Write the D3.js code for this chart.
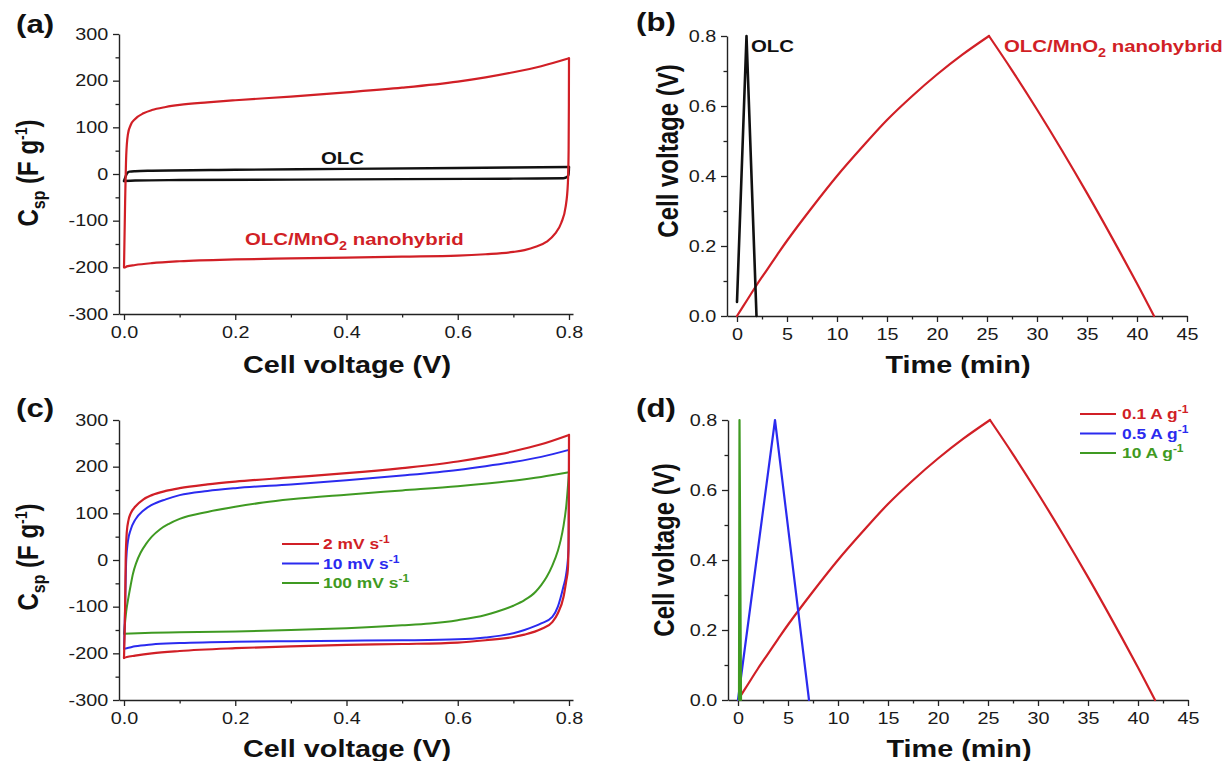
<!DOCTYPE html>
<html>
<head>
<meta charset="utf-8">
<script src="https://cdn.jsdelivr.net/npm/d3@7"></script>
<style>
  body { margin: 0; background: #fff; }
  svg { display: block; font-family: "Liberation Sans", Arial, sans-serif; }
</style>
</head>
<body>
<svg id="fig" width="1226" height="761"></svg>
<script>
// ---- data ----
// (a) CV of the two electrodes, [cell voltage V, Csp F/g]; forward sweep then reverse sweep
const cvHybrid = [[0,-200],[0.002,-60],[0.004,40],[0.007,85],[0.012,105],[0.02,118],[0.035,130],[0.05,137],[0.075,143.5],[0.1,148],[0.15,153.5],[0.2,158],[0.3,166],[0.4,175],[0.5,185],[0.6,198],[0.65,207],[0.7,218],[0.75,231],[0.8,248],
  [0.7998,150],[0.7993,50],[0.798,-20],[0.794,-70],[0.786,-105],[0.775,-128],[0.76,-145],[0.74,-156],[0.72,-163],[0.7,-167],[0.65,-172],[0.6,-175],[0.5,-177],[0.4,-179],[0.3,-181],[0.2,-183],[0.1,-187],[0.05,-191],[0.02,-195],[0.005,-198],[0.002,-200],[0,-200]];
const cvOLC = [[0,-15],[0.003,-5],[0.006,2],[0.01,5],[0.02,6],[0.05,7],[0.2,9],[0.4,11],[0.6,13],[0.8,15],
  [0.7997,6],[0.799,-2],[0.797,-6],[0.79,-9],[0.7,-10],[0.5,-11],[0.3,-12],[0.1,-13],[0.02,-14],[0,-15]];

// (b)/(d) galvanostatic charge-discharge, [time min, voltage V]
const gcdHybridCharge = [[0,0],[1,0.045],[2,0.09],[3,0.132],[4,0.174],[5,0.215],[7.5,0.31],[10,0.4],[12.5,0.482],[15,0.56],[17.5,0.628],[20,0.69],[22.5,0.746],[25.2,0.8]];
const gcdHybridDischarge = [[25.2,0.8],[27.5,0.702],[30,0.59],[32.5,0.473],[35,0.351],[37.5,0.224],[40,0.093],[41.7,0]];
const gcdOLC = [[0,0.04],[0.95,0.8],[1.95,0]];
const gcdHalfAmp = [[0,0],[3.7,0.8],[7.1,0]];
const gcdTenAmp = [[0.1,0],[0.15,0.8],[0.3,0]];

// (c) CV at three scan rates
const cvScan2 = [[0,-210],[0.002,-100],[0.003,0],[0.005,60],[0.008,85],[0.012,100],[0.02,114],[0.035,130],[0.05,139],[0.075,148],[0.1,154],[0.15,162],[0.2,168],[0.3,177],[0.4,186],[0.5,197],[0.6,211],[0.65,221],[0.7,233],[0.75,248],[0.8,268],
  [0.7998,150],[0.7993,50],[0.798,-20],[0.795,-45],[0.79,-80],[0.78,-114],[0.77,-133],[0.75,-148],[0.72,-160],[0.7,-165],[0.65,-172],[0.6,-177],[0.5,-180],[0.4,-182],[0.3,-185],[0.2,-189],[0.1,-195],[0.05,-200],[0.02,-205],[0.005,-208],[0,-210]];
const cvScan10 = [[0,-190],[0.002,-100],[0.004,0],[0.007,40],[0.012,65],[0.02,86],[0.035,106],[0.05,118],[0.075,130],[0.1,139],[0.15,148],[0.2,154],[0.3,162],[0.4,171],[0.5,181],[0.6,193],[0.65,201],[0.7,210],[0.75,221],[0.8,236],
  [0.7997,100],[0.799,20],[0.795,-30],[0.79,-57],[0.78,-100],[0.77,-122],[0.75,-136],[0.72,-150],[0.7,-157],[0.65,-166],[0.6,-170],[0.5,-172],[0.4,-173],[0.3,-174],[0.2,-175],[0.1,-178],[0.05,-181],[0.02,-185],[0.005,-189],[0,-190]];
const cvScan100 = [[0,-158],[0.004,-110],[0.008,-80],[0.012,-54],[0.016,-30],[0.022,-6],[0.03,16],[0.04,35],[0.05,50],[0.065,66],[0.08,77],[0.1,88],[0.15,103],[0.2,114],[0.25,123],[0.3,130],[0.4,140],[0.5,149],[0.6,158],[0.7,170],[0.75,178],[0.8,188],
  [0.795,115],[0.79,72],[0.785,42],[0.78,20],[0.77,-12],[0.76,-36],[0.75,-54],[0.74,-68],[0.72,-86],[0.7,-98],[0.67,-111],[0.65,-118],[0.6,-129],[0.55,-136],[0.5,-140],[0.4,-146],[0.3,-150],[0.2,-153],[0.1,-155],[0.05,-156],[0,-158]];

// tick values
const cvVoltTicks = [0, 0.2, 0.4, 0.6, 0.8];
const cvVoltMinor = [0.1, 0.3, 0.5, 0.7];
const cspTicks = [-300, -200, -100, 0, 100, 200, 300];
const cspMinor = [-250, -150, -50, 50, 150, 250];
const timeTicks = [0, 5, 10, 15, 20, 25, 30, 35, 40, 45];
const timeMinor = [2.5, 7.5, 12.5, 17.5, 22.5, 27.5, 32.5, 37.5, 42.5];
const gcdVoltTicks = [0, 0.2, 0.4, 0.6, 0.8];
const gcdVoltMinor = [0.1, 0.3, 0.5, 0.7];

// legends
const scanLabels = ["2 mV s", "10 mV s", "100 mV s"];
const currentLabels = ["0.1 A g", "0.5 A g", "10 A g"];

const RED = "#d11f26", BLUE = "#2b2bef", GREEN = "#3f9a22", BLACK = "#111";
const SX = 1.2; // the figure is a little stretched sideways

const svg = d3.select("#fig");
svg.append("rect").attr("width", 1226).attr("height", 761).attr("fill", "#fff");

// text made of parts (sub/superscripts), stretched like the original
function richText(parent, x, y, parts, opts) {
  const t = parent.append("text")
    .attr("transform", `translate(${x},${y}) scale(${SX},1)` + (opts.rotate ? " rotate(-90)" : ""))
    .attr("text-anchor", opts.anchor || "start")
    .attr("font-weight", opts.weight || "bold")
    .attr("font-size", opts.size)
    .attr("fill", opts.fill || BLACK);
  let prev = 0;
  parts.forEach((p) => {
    const shift = p.shift || 0;
    t.append("tspan").attr("dy", shift - prev).attr("font-size", p.size || opts.size).text(p.t);
    prev = shift;
  });
  return t;
}

function drawAxes(cfg) {
  const g = svg.append("g");
  const x = d3.scaleLinear().domain(cfg.xDomain).range(cfg.xRange);
  const y = d3.scaleLinear().domain(cfg.yDomain).range(cfg.yRange);

  // minor ticks
  g.append("g").attr("transform", `translate(0,${cfg.yRange[0]})`)
    .call(d3.axisBottom(x).tickValues(cfg.xMinor).tickSize(3.5).tickFormat(""))
    .call((a) => a.select(".domain").remove());
  g.append("g").attr("transform", `translate(${cfg.xRange[0]},0)`)
    .call(d3.axisLeft(y).tickValues(cfg.yMinor).tickSize(3.5).tickFormat(""))
    .call((a) => a.select(".domain").remove());

  const xa = g.append("g").attr("transform", `translate(0,${cfg.yRange[0]})`)
    .call(d3.axisBottom(x).tickValues(cfg.xTicks).tickSize(6).tickPadding(6).tickSizeOuter(0).tickFormat(cfg.xFmt));
  const ya = g.append("g").attr("transform", `translate(${cfg.xRange[0]},0)`)
    .call(d3.axisLeft(y).tickValues(cfg.yTicks).tickSize(6).tickPadding(3).tickSizeOuter(0).tickFormat(cfg.yFmt));

  [xa, ya].forEach((a) => {
    a.select(".domain").attr("stroke", "#222").attr("stroke-width", 1.4);
    a.selectAll("text").attr("font-size", 16.5).attr("fill", "#1a1a1a")
      .attr("font-family", "'Liberation Sans', Arial, sans-serif")
      .attr("transform", `scale(${SX},1)`);
  });
  g.selectAll("line").attr("stroke", "#222").attr("stroke-width", 1.3);

  richText(g, cfg.tag[0], cfg.tag[1], [{ t: cfg.tag[2] }], { size: 26 });
  richText(g, (cfg.xRange[0] + cfg.xRange[1]) / 2 + 1, cfg.xTitleY, cfg.xTitle, { size: 24, anchor: "middle" });
  richText(g, cfg.yTitlePos[0], cfg.yTitlePos[1], cfg.yTitle, { size: 24, anchor: "middle", rotate: true });
  return { g, x, y };
}

// one sweep at a time: x is monotone inside each piece, so no overshoot at the corners
function drawLine(p, data, color, width, curve) {
  const line = d3.line().x((d) => p.x(d[0])).y((d) => p.y(d[1])).curve(curve || d3.curveLinear);
  let pieces = [data];
  if (curve === d3.curveMonotoneX) {
    const turn = d3.maxIndex(data, (d) => d[0]);
    pieces = [data.slice(0, turn + 1), data.slice(turn)].filter((s) => s.length > 1);
  }
  pieces.forEach((s) => {
    p.g.append("path").datum(s).attr("d", line)
      .attr("fill", "none").attr("stroke", color).attr("stroke-width", width)
      .attr("stroke-linejoin", "round").attr("stroke-linecap", "round");
  });
}

const cspTitle = [{ t: "C" }, { t: "sp", size: 16, shift: 6 }, { t: " (F g", shift: 0 }, { t: "-1", size: 14, shift: -9 }, { t: ")", shift: 0 }];
const voltTitle = [{ t: "Cell voltage (V)" }];
const timeTitle = [{ t: "Time (min)" }];
const fmt1 = (d) => d.toFixed(1);
const fmtInt = (d) => String(d);
const SMOOTH = d3.curveCatmullRom.alpha(0.5);
const SWEEP = d3.curveMonotoneX;

// ---- (a) ----
const pa = drawAxes({
  xDomain: [-0.009, 0.8072], xRange: [119, 573], yDomain: [-300, 300], yRange: [314, 34],
  xTicks: cvVoltTicks, xMinor: cvVoltMinor, yTicks: cspTicks, yMinor: cspMinor,
  xFmt: fmt1, yFmt: fmtInt, tag: [16, 33, "(a)"], xTitle: voltTitle, xTitleY: 373,
  yTitle: cspTitle, yTitlePos: [38, 173]
});
drawLine(pa, cvOLC, BLACK, 2.4, SWEEP);
drawLine(pa, cvHybrid, RED, 2.2, SWEEP);
richText(pa.g, 321, 164, [{ t: "OLC" }], { size: 17 });
richText(pa.g, 245, 245, [{ t: "OLC/MnO" }, { t: "2", size: 12, shift: 5 }, { t: " nanohybrid", shift: 0 }], { size: 17, fill: RED });

// ---- (b) ----
const pb = drawAxes({
  xDomain: [-1, 45], xRange: [727, 1187], yDomain: [0, 0.8], yRange: [316, 36],
  xTicks: timeTicks, xMinor: timeMinor, yTicks: gcdVoltTicks, yMinor: gcdVoltMinor,
  xFmt: fmtInt, yFmt: fmt1, tag: [636, 31, "(b)"], xTitle: timeTitle, xTitleY: 373,
  yTitle: voltTitle, yTitlePos: [678, 151]
});
drawLine(pb, gcdHybridCharge, RED, 2.2, SMOOTH);
drawLine(pb, gcdHybridDischarge, RED, 2.2, SMOOTH);
drawLine(pb, gcdOLC, BLACK, 2.6);
richText(pb.g, 751, 52, [{ t: "OLC" }], { size: 17 });
richText(pb.g, 1004, 52, [{ t: "OLC/MnO" }, { t: "2", size: 12, shift: 5 }, { t: " nanohybrid", shift: 0 }], { size: 17, fill: RED });

// ---- (c) ----
const pc = drawAxes({
  xDomain: [-0.009, 0.8072], xRange: [119, 573], yDomain: [-300, 300], yRange: [700, 420],
  xTicks: cvVoltTicks, xMinor: cvVoltMinor, yTicks: cspTicks, yMinor: cspMinor,
  xFmt: fmt1, yFmt: fmtInt, tag: [16, 417, "(c)"], xTitle: voltTitle, xTitleY: 757,
  yTitle: cspTitle, yTitlePos: [38, 557]
});
const scanColors = [RED, BLUE, GREEN];
drawLine(pc, cvScan100, GREEN, 2, SWEEP);
drawLine(pc, cvScan10, BLUE, 2, SWEEP);
drawLine(pc, cvScan2, RED, 2.2, SWEEP);
scanLabels.forEach((lab, i) => {
  const yy = 544 + i * 19.5;
  pc.g.append("line").attr("x1", 282).attr("x2", 319).attr("y1", yy).attr("y2", yy)
    .attr("stroke", scanColors[i]).attr("stroke-width", 2.2);
  richText(pc.g, 323, yy + 5, [{ t: lab }, { t: "-1", size: 10, shift: -6 }], { size: 14.5, fill: scanColors[i] });
});

// ---- (d) ----
const pd = drawAxes({
  xDomain: [-1, 45], xRange: [728, 1188], yDomain: [0, 0.8], yRange: [700, 420],
  xTicks: timeTicks, xMinor: timeMinor, yTicks: gcdVoltTicks, yMinor: gcdVoltMinor,
  xFmt: fmtInt, yFmt: fmt1, tag: [636, 417, "(d)"], xTitle: timeTitle, xTitleY: 757,
  yTitle: voltTitle, yTitlePos: [674, 550]
});
drawLine(pd, gcdHybridCharge, RED, 2.2, SMOOTH);
drawLine(pd, gcdHybridDischarge, RED, 2.2, SMOOTH);
drawLine(pd, gcdHalfAmp, BLUE, 2.2);
drawLine(pd, gcdTenAmp, GREEN, 2.2);
currentLabels.forEach((lab, i) => {
  const yy = 414 + i * 19.5;
  pd.g.append("line").attr("x1", 1080).attr("x2", 1116).attr("y1", yy).attr("y2", yy)
    .attr("stroke", scanColors[i]).attr("stroke-width", 2.2);
  richText(pd.g, 1122, yy + 5, [{ t: lab }, { t: "-1", size: 10, shift: -6 }], { size: 14.5, fill: scanColors[i] });
});
</script>
</body>
</html>
